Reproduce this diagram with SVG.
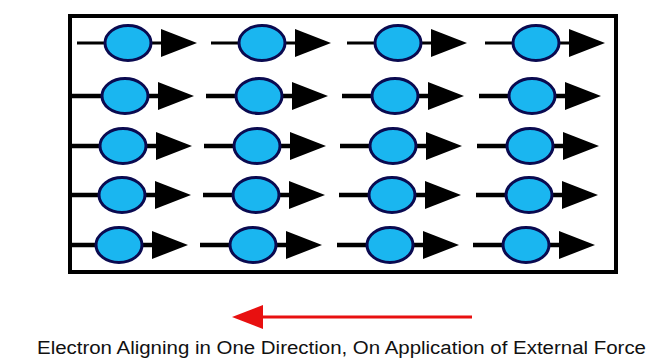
<svg xmlns="http://www.w3.org/2000/svg" xmlns:xlink="http://www.w3.org/1999/xlink" width="656" height="364" viewBox="0 0 656 364">
<style>
.frame{fill:none;stroke:#000;stroke-width:4}
.wire{stroke:#000;stroke-width:4.5}
.wire1{stroke:#000;stroke-width:3}
.ball{fill:#1ab6f0;stroke:#0a0a50;stroke-width:3}
.head{fill:#000}
.force{stroke:#e81010;stroke-width:3}
.cap{font-family:"Liberation Sans",Arial,sans-serif;font-size:18px;fill:#111}
</style>
<defs>
<clipPath id="inside"><rect x="70" y="16" width="546" height="256"/></clipPath>
<g id="e">
<line class="wire" x1="-53" y1="0" x2="40" y2="0"/>
<ellipse class="ball" cx="0" cy="0" rx="23" ry="17.5"/>
<polygon class="head" points="33,-14 69,0 33,14"/>
</g>
<g id="e1">
<line class="wire1" x1="-51" y1="0" x2="40" y2="0"/>
<ellipse class="ball" cx="0" cy="0" rx="23" ry="17.5"/>
<polygon class="head" points="33,-14 69,0 33,14"/>
</g>
</defs>
<rect width="656" height="364" fill="#fff"/>
<g id="connectors">
<line class="force" x1="472" y1="317" x2="258" y2="317"/>
<polygon points="232,317 263,305 263,329" fill="#e81010"/>
</g>
<g id="electrons" clip-path="url(#inside)">
<g id="r1c1"><use xlink:href="#e1" x="128" y="43"/></g>
<g id="r1c2"><use xlink:href="#e1" x="262" y="43"/></g>
<g id="r1c3"><use xlink:href="#e1" x="398" y="43"/></g>
<g id="r1c4"><use xlink:href="#e1" x="536" y="43"/></g>
<g id="r2c1"><use xlink:href="#e" x="125" y="96"/></g>
<g id="r2c2"><use xlink:href="#e" x="259" y="96"/></g>
<g id="r2c3"><use xlink:href="#e" x="395" y="96"/></g>
<g id="r2c4"><use xlink:href="#e" x="532" y="96"/></g>
<g id="r3c1"><use xlink:href="#e" x="123" y="146"/></g>
<g id="r3c2"><use xlink:href="#e" x="257" y="146"/></g>
<g id="r3c3"><use xlink:href="#e" x="393" y="146"/></g>
<g id="r3c4"><use xlink:href="#e" x="530" y="146"/></g>
<g id="r4c1"><use xlink:href="#e" x="122" y="195"/></g>
<g id="r4c2"><use xlink:href="#e" x="256" y="195"/></g>
<g id="r4c3"><use xlink:href="#e" x="392" y="195"/></g>
<g id="r4c4"><use xlink:href="#e" x="529" y="195"/></g>
<g id="r5c1"><use xlink:href="#e" x="119" y="245"/></g>
<g id="r5c2"><use xlink:href="#e" x="253" y="245"/></g>
<g id="r5c3"><use xlink:href="#e" x="390" y="245"/></g>
<g id="r5c4"><use xlink:href="#e" x="526" y="245"/></g>
</g>
<rect class="frame" x="70" y="16" width="546" height="256"/>
<text class="cap" x="37" y="354" textLength="609" lengthAdjust="spacingAndGlyphs">Electron Aligning in One Direction, On Application of External Force</text>
</svg>
